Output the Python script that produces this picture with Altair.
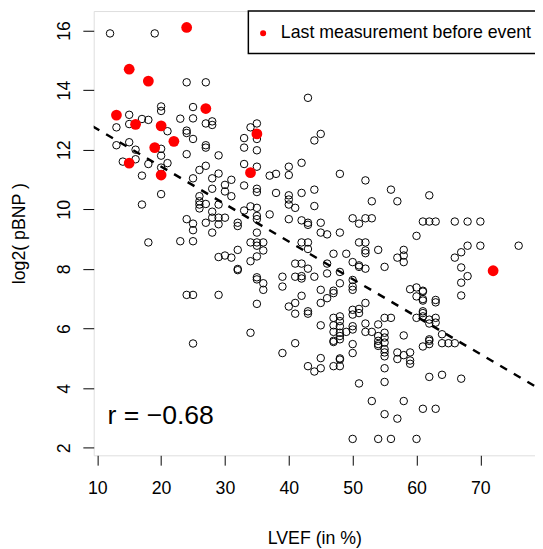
import altair as alt
import pandas as pd

# ---- data ----
x_open = [12, 19, 24, 27, 20, 20, 25, 15, 17, 18, 23, 25, 27, 28, 28, 13, 15, 21, 24, 24,
          25, 13, 15, 16, 20, 27, 27, 24, 29, 20, 21, 20, 14, 16, 18, 17, 26, 27, 29, 25,
          28, 31, 33, 33, 33, 35, 35, 35, 35, 34,
          33, 35, 35, 20, 17, 26, 26, 26, 26, 27, 28, 28, 29, 30, 30, 31, 30, 29, 29, 28,
          27, 28, 24, 25, 25, 32, 32, 33, 34, 35, 35, 35, 35, 34, 35, 35, 18, 23, 25, 32,
          29, 30, 31, 32, 32, 34, 35, 35, 35, 36, 24, 25, 29, 35, 34, 25,
          43, 44, 45, 42, 40, 40, 37, 38, 48, 52,
          56, 57, 53, 62, 36, 36, 36, 37, 38, 40, 40, 40, 41, 40, 42, 44, 44, 42, 43, 43,
          45, 45, 46, 48, 50, 51, 52, 53, 60, 62, 42, 43, 43, 41, 42, 39, 39, 41, 42, 42,
          43, 44, 46, 46, 47, 48, 49, 50, 51, 52, 52, 52, 51, 51, 52, 50, 50, 50, 54, 55,
          57, 58, 58, 58, 42, 40, 41, 41, 43, 43, 45, 45, 46, 47, 47, 48, 45, 47, 47, 47,
          47, 48, 48, 48, 49, 48, 48, 50, 50, 51, 51, 52, 50, 50, 50, 52, 52, 53, 54, 54,
          54, 54, 55, 55, 55, 56, 55, 58, 59, 60, 60, 61, 61, 61, 61, 60, 62, 62, 41,
          39, 43, 44, 45, 45, 47, 48, 47, 48, 48, 48, 50, 51, 54, 55, 55, 55, 55, 55,
          57, 58, 57, 59, 59, 59, 61, 62, 53, 58, 55, 57, 61, 63, 50, 54, 56, 60,
          61, 63, 66, 68, 70, 68, 70, 76, 67, 66, 67, 68, 67, 67, 61, 61, 63, 63,
          61, 62, 63, 63, 64, 62, 62, 64, 65, 66, 64, 67]
y_open = [15.9, 15.9, 14.26, 14.26, 13.45, 13.3, 13.43, 13.17, 13.03, 13.0, 13.04, 13.05, 12.88, 12.95, 12.83, 12.75, 12.86, 12.62, 12.64, 12.56,
          12.36, 12.15, 12.25, 12.0, 12.03, 12.15, 12.07, 11.85, 11.81, 11.8, 11.55, 11.4, 11.6, 11.68, 11.52, 11.13, 11.32, 11.46, 11.2, 11.04,
          11.04, 10.99, 12.39, 12.07, 11.52, 12.88, 12.36, 11.98, 11.43, 12.75,
          10.8, 10.69, 10.58, 10.51, 10.16, 10.44, 10.27, 10.16, 10.03, 10.18, 10.69, 9.92, 10.16, 10.82, 10.6, 10.44, 9.72, 9.72, 9.5, 9.72,
          9.55, 9.22, 9.67, 9.52, 9.3, 9.55, 9.44, 9.96, 10.1, 10.05, 9.78, 9.67, 9.22, 8.89, 8.89, 8.78, 8.89, 8.93, 8.93, 8.64,
          8.4, 8.45, 8.38, 8.0, 7.96, 8.26, 8.42, 7.72, 7.65, 7.52, 7.13, 7.13, 7.13, 6.83, 5.86, 5.5,
          13.74, 12.31, 12.53, 11.56, 11.43, 11.15, 11.13, 11.19, 11.19, 10.97,
          10.66, 10.27, 10.27, 10.47, 8.89, 8.62, 7.3, 9.83, 10.55, 10.47, 10.33, 10.16, 10.05, 9.67, 10.55, 10.66, 10.11, 9.63, 9.55, 9.48,
          9.55, 9.22, 9.16, 9.22, 9.7, 9.52, 9.7, 9.7, 9.11, 9.59, 8.89, 8.89, 8.67, 8.18, 8.18, 7.74, 7.41, 7.74, 7.76, 7.68,
          8.01, 7.74, 8.18, 7.85, 8.51, 7.9, 8.51, 8.23, 8.89, 8.89, 8.62, 8.53, 8.12, 8.07, 8.01, 7.63, 7.41, 7.3, 8.64, 8.07,
          8.38, 8.64, 8.45, 8.23, 7.1, 6.74, 6.86, 6.5, 6.58, 6.5, 7.3, 6.86, 7.02, 7.27, 7.19, 7.52, 6.11, 6.36, 6.11, 5.89,
          5.59, 6.41, 6.25, 6.08, 5.89, 5.86, 5.75, 6.63, 6.47, 6.66, 6.52, 6.86, 6.08, 5.97, 5.48, 6.17, 5.89, 5.89, 6.14, 5.75,
          5.59, 5.48, 5.86, 5.7, 5.53, 6.36, 6.36, 5.77, 7.32, 7.38, 7.08, 7.27, 6.99, 6.58, 6.41, 6.36, 6.17, 5.64, 5.51,
          5.18, 4.74, 4.56, 4.67, 5.01, 5.55, 5.64, 4.74, 4.74, 5.0, 4.96, 5.18, 4.16, 5.42, 5.31, 5.2, 5.07, 4.67, 4.21,
          5.2, 5.11, 4.98, 5.2, 4.93, 4.82, 5.4, 4.38, 3.57, 3.57, 3.13, 2.98, 3.31, 3.31, 2.3, 2.3, 2.3, 2.3,
          9.59, 9.59, 9.59, 9.59, 9.59, 8.78, 8.78, 8.78, 8.56, 8.38, 8.05, 7.76, 7.54, 7.11, 7.24, 6.94, 6.96, 6.88,
          6.52, 6.3, 6.36, 6.2, 5.81, 5.59, 5.48, 5.51, 5.51, 5.51, 4.45, 4.32]

x_red = [24, 15, 18, 27, 13, 16, 20, 22, 19, 15, 20, 35, 34, 72]
y_red = [16.1, 14.7, 14.3, 13.38, 13.16, 12.85, 12.8, 12.28, 12.07, 11.55, 11.15, 12.53, 11.23, 7.94]

fit_intercept = 13.95
fit_slope = -0.1258
fit_x = [5, 85]

x_ticks = [10, 20, 30, 40, 50, 60, 70]
y_ticks = [2, 4, 6, 8, 10, 12, 14, 16]
x_domain = [9.44, 78.56]
y_domain = [1.75, 16.65]

legend_label = "Last measurement before event"
r_label = "r = \u22120.68"
FONT = "Liberation Sans"

W, H = 448, 451

df_open = pd.DataFrame({"LVEF": x_open, "pBNP": y_open})
df_red = pd.DataFrame({"LVEF": x_red, "pBNP": y_red})
df_fit = pd.DataFrame({"LVEF": fit_x,
                       "pBNP": [fit_intercept + fit_slope * v for v in fit_x]})

xs = alt.Scale(domain=x_domain, nice=False, zero=False)
ys = alt.Scale(domain=y_domain, nice=False, zero=False)

xax = alt.Axis(values=x_ticks, title="LVEF (in %)", grid=False, domain=False,
               tickSize=10, tickColor="black", labelFontSize=18, labelFont=FONT,
               labelColor="black", labelPadding=15, titleFontSize=18, titleFont=FONT,
               titleFontWeight="normal", titleColor="black", titlePadding=33)
yax = alt.Axis(values=y_ticks, title="log2( pBNP )", grid=False, domain=False,
               tickSize=11, tickColor="black", labelFontSize=18, labelFont=FONT,
               labelColor="black", labelAngle=270, labelAlign="center",
               labelBaseline="bottom", labelPadding=10, titleFontSize=18,
               titleFont=FONT, titleFontWeight="normal", titleColor="black",
               titlePadding=27)

base_x = alt.X("LVEF:Q", scale=xs, axis=xax)
base_y = alt.Y("pBNP:Q", scale=ys, axis=yax)

opens = alt.Chart(df_open).mark_point(shape="circle", filled=False, size=58,
                                       color="black", strokeWidth=1, opacity=1).encode(
    x=base_x, y=base_y)

reds = alt.Chart(df_red).mark_circle(size=120, color="#ff0000", opacity=1).encode(
    x=alt.X("LVEF:Q", scale=xs), y=alt.Y("pBNP:Q", scale=ys))

fit = alt.Chart(df_fit).mark_line(color="black", strokeWidth=2.5, strokeDash=[8, 8],
                                  clip=True).encode(
    x=alt.X("LVEF:Q", scale=xs), y=alt.Y("pBNP:Q", scale=ys))

leg_df = pd.DataFrame({"label": [legend_label]})
leg_box = alt.Chart(leg_df).mark_rect(fill="white", stroke="black", strokeWidth=1.5).encode(
    x=alt.value(157), x2=alt.value(W + 2), y=alt.value(0), y2=alt.value(43))
leg_dot = alt.Chart(leg_df).mark_circle(size=38, color="#ff0000", opacity=1).encode(
    x=alt.value(172), y=alt.value(22.5))
leg_txt = alt.Chart(leg_df).mark_text(align="left", baseline="middle", fontSize=18,
                                      font=FONT, color="black").encode(
    x=alt.value(190), y=alt.value(22.5), text="label:N")

r_df = pd.DataFrame({"label": [r_label]})
r_txt = alt.Chart(r_df).mark_text(align="left", baseline="middle", fontSize=27,
                                  font=FONT, color="black").encode(
    x=alt.value(14), y=alt.value(411), text="label:N")

chart = alt.layer(opens, reds, fit, leg_box, leg_dot, leg_txt, r_txt).properties(
    width=W, height=H,
    autosize=alt.AutoSizeParams(type="none"),
    padding={"left": 87, "top": -1, "right": 0, "bottom": 90},
).configure_view(stroke="black", strokeWidth=1).configure(background="white")

chart.save("out.html", embed_options={"renderer": "svg", "actions": False})
